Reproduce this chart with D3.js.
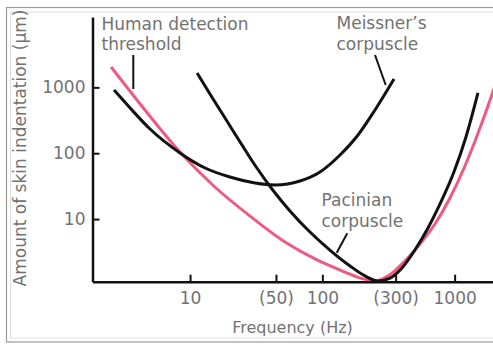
<!DOCTYPE html>
<html>
<head>
<meta charset="utf-8">
<script src="https://cdn.jsdelivr.net/npm/d3@7"></script>
<style>
  html, body { margin: 0; padding: 0; background: #fff; }
  svg { display: block; }
  text { font-family: "DejaVu Sans", sans-serif; fill: #727272; }
</style>
</head>
<body>
<svg id="chart" width="493" height="344"></svg>
<script>
// ---- Data (frequency in Hz, skin indentation in µm) ----
const thresholdFreq  = [2.53, 4.56, 8.39, 15.4, 28.4, 52.2, 88, 148, 199, 250, 325, 421, 547, 710, 922, 1197, 1554, 2017];
const thresholdValue = [2037, 453, 104, 30.7, 11.1, 4.49, 2.48, 1.57, 1.25, 1.15, 1.44, 2.31, 4.18, 8.42, 20.9, 63.9, 241, 1048];

const meissnerFreq  = [2.66, 3.52, 4.98, 8.39, 13.0, 20.0, 31.0, 43.8, 67.8, 96, 136, 186, 250, 348];
const meissnerValue = [911, 486, 233, 101, 59.6, 43.5, 35.3, 32.9, 37.8, 51.8, 93.9, 189, 453, 1339];

const pacinianFreq  = [11.3, 14.6, 19.0, 24.7, 32.0, 41.6, 56.9, 80.6, 114, 162, 210, 263, 325, 400, 501, 629, 788, 988, 1218, 1501];
const pacinianValue = [1652, 714, 308, 133, 59.6, 28.6, 13.3, 6.36, 3.39, 1.94, 1.37, 1.15, 1.27, 1.81, 3.39, 7.32, 18.2, 51.8, 176, 821];

const xTickValues = [10, 44.6, 100, 358, 1000];
const xTickLabels = ["10", "(50)", "100", "(300)", "1000"];
const yTickValues = [10, 100, 1000];
const yTickLabels = ["10", "100", "1000"];

const xTitle = "Frequency (Hz)";
const yTitle = "Amount of skin indentation (µm)";

// ---- Layout ----
const W = 493, H = 344;
const plot = { left: 92.5, right: 493, top: 17, bottom: 281.7 };

const svg = d3.select("#chart");

// double frame
svg.append("rect").attr("x", 6.5).attr("y", 7.5).attr("width", W + 10).attr("height", 334.5)
  .attr("fill", "none").attr("stroke", "#9a9a9a").attr("stroke-width", 1.2);
svg.append("rect").attr("x", 10.5).attr("y", 12).attr("width", W + 10).attr("height", 326)
  .attr("fill", "none").attr("stroke", "#dedede").attr("stroke-width", 1);

const x = d3.scaleLog().domain([1.83, 1950]).range([plot.left, plot.right]);
const y = d3.scaleLog().domain([1.12, 11700]).range([plot.bottom, plot.top]);

const line = d3.line()
  .x(d => x(d[0])).y(d => y(d[1]))
  .curve(d3.curveMonotoneX);

const zip = (a, b) => a.map((v, i) => [v, b[i]]);

// curves
svg.append("path").datum(zip(thresholdFreq, thresholdValue))
  .attr("d", line).attr("fill", "none").attr("stroke", "#ee5a80").attr("stroke-width", 3);
svg.append("path").datum(zip(meissnerFreq, meissnerValue))
  .attr("d", line).attr("fill", "none").attr("stroke", "#111").attr("stroke-width", 3);
svg.append("path").datum(zip(pacinianFreq, pacinianValue))
  .attr("d", line).attr("fill", "none").attr("stroke", "#111").attr("stroke-width", 3);

// axes
const xAxis = d3.axisBottom(x).tickValues(xTickValues)
  .tickFormat((d, i) => xTickLabels[i]).tickSize(-7).tickSizeOuter(0).tickPadding(10);
const yAxis = d3.axisLeft(y).tickValues(yTickValues)
  .tickFormat((d, i) => yTickLabels[i]).tickSize(-7).tickSizeOuter(0).tickPadding(7);

const gx = svg.append("g").attr("transform", `translate(0,${plot.bottom})`).call(xAxis);
const gy = svg.append("g").attr("transform", `translate(${plot.left},0)`).call(yAxis);
[gx, gy].forEach(g => {
  g.select(".domain").attr("stroke", "#111").attr("stroke-width", 2.5);
  g.selectAll(".tick line").attr("stroke", "#111").attr("stroke-width", 2);
  g.selectAll(".tick text").attr("font-size", 17).attr("font-family", "DejaVu Sans").attr("fill", "#727272");
});

// axis titles
svg.append("text").attr("x", 292.5).attr("y", 333).attr("text-anchor", "middle")
  .attr("font-size", 16).text(xTitle);
svg.append("text").attr("transform", "translate(26,148) rotate(-90)").attr("text-anchor", "middle")
  .attr("font-size", 17).text(yTitle);

// annotations
const annotations = [
  { lines: ["Human detection", "threshold"], tx: 101.5, ty: 29.5, l: [133.3, 55, 133.3, 89] },
  { lines: ["Meissner’s", "corpuscle"], tx: 336.5, ty: 29.3, l: [375, 55, 385.7, 85] },
  { lines: ["Pacinian", "corpuscle"], tx: 321.5, ty: 206, l: [347.3, 233.3, 336.7, 252.7] }
];
annotations.forEach(a => {
  const t = svg.append("text").attr("x", a.tx).attr("y", a.ty).attr("font-size", 17);
  a.lines.forEach((s, i) => t.append("tspan").attr("x", a.tx).attr("dy", i === 0 ? 0 : 20.5).text(s));
  svg.append("line").attr("x1", a.l[0]).attr("y1", a.l[1]).attr("x2", a.l[2]).attr("y2", a.l[3])
    .attr("stroke", "#111").attr("stroke-width", 2);
});
</script>
</body>
</html>
